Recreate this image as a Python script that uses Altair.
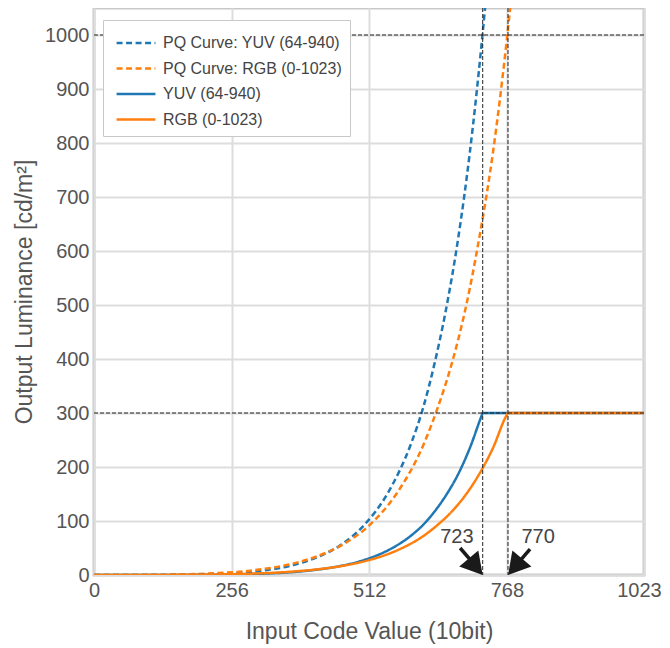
import altair as alt
import pandas as pd

FONT = "Liberation Sans"

series_names = ["PQ Curve: YUV (64-940)", "PQ Curve: RGB (0-1023)", "YUV (64-940)", "RGB (0-1023)"]
series_colors = ["#1f77b4", "#ff7f0e", "#1f77b4", "#ff7f0e"]
series_dashes = [[6, 3.5], [6, 3.5], [1, 0], [1, 0]]

# PQ curve, YUV (64-940)
pq_yuv_x = [0, 64, 152, 239, 327, 371, 414, 458, 502, 546, 590, 612, 633, 655, 677, 699, 721, 730]
pq_yuv_y = [0, 0, 0.3, 2.4, 10, 18.4, 32.5, 55, 92, 151, 244, 309, 390, 493, 621, 782, 984, 1078]

# PQ curve, RGB (0-1023)
pq_rgb_x = [0, 102, 205, 307, 358, 409, 460, 512, 563, 614, 639, 665, 691, 716, 742, 767, 777]
pq_rgb_y = [0, 0.3, 2.4, 10, 18.4, 32.5, 55, 92, 151, 244, 309, 390, 493, 621, 782, 984, 1078]

# output, YUV (64-940)
yuv_x = [0, 64, 152, 239, 327, 371, 414, 458, 502, 546, 590, 612, 633, 655, 677, 699, 721, 723, 1023]
yuv_y = [0, 0, 0.1, 0.7, 3, 5.5, 9.8, 16.6, 27.7, 45.3, 73.2, 92.7, 117, 148, 186, 235, 295, 300, 300]

# output, RGB (0-1023)
rgb_x = [0, 102, 205, 307, 358, 409, 460, 512, 563, 614, 639, 665, 691, 716, 742, 767, 770, 1023]
rgb_y = [0, 0.1, 0.7, 3, 5.5, 9.8, 16.6, 27.7, 45.3, 73.2, 92.7, 117, 148, 186, 235, 295, 300, 300]

x_ticks = [0, 256, 512, 768, 1023]
y_ticks = [0, 100, 200, 300, 400, 500, 600, 700, 800, 900, 1000]

h_ref = [1000, 300]
v_ref = [723, 770]

# annotations
ann_text = ["723", "770"]
ann_text_x = [675, 826]
ann_text_y = [70, 70]
arrow_tail_x = [681, 811]
arrow_tail_y = [50, 48]
arrow_end_x = [712, 781]
arrow_end_y = [14, 13]
arrow_tip_x = [723, 770]
arrow_tip_y = [0, 0]

rows = []
for name, xs, ys in [(series_names[0], pq_yuv_x, pq_yuv_y), (series_names[1], pq_rgb_x, pq_rgb_y),
                     (series_names[2], yuv_x, yuv_y), (series_names[3], rgb_x, rgb_y)]:
    for i, (xv, yv) in enumerate(zip(xs, ys)):
        rows.append({"series": name, "code": xv, "lum": yv, "idx": i})
df = pd.DataFrame(rows)

xscale = alt.Scale(domain=[0, 1023], nice=False, zero=False)
yscale = alt.Scale(domain=[0, 1050], nice=False)

x_enc = alt.X("code:Q", scale=xscale,
              axis=alt.Axis(values=x_ticks, format="d", labelFlush=False,
                            labelOffset={"condition": {"test": "datum.value == 1023", "value": -5}, "value": 0},
                            title="Input Code Value (10bit)"))
y_enc = alt.Y("lum:Q", scale=yscale,
              axis=alt.Axis(values=y_ticks, format="d", labelFlush=False,
                            title="Output Luminance [cd/m²]"))

legend_kw = dict(
    orient="none", legendX=9, legendY=12, fillColor="white", strokeColor="#c8c8c8",
    padding=8, rowPadding=2.5, symbolType="M-1.44,0L1.44,0", symbolSize=729,
    symbolStrokeWidth=2.5, symbolOffset=10, labelOffset=12, labelFontSize=16,
    labelColor="#444444", labelFont=FONT, labelLimit=400,
)

lines = alt.Chart(df).mark_line(strokeWidth=2.5, clip=True, interpolate="monotone").encode(
    x=x_enc,
    y=y_enc,
    color=alt.Color("series:N", scale=alt.Scale(domain=series_names, range=series_colors),
                    title=None, legend=alt.Legend(**legend_kw)),
    strokeDash=alt.StrokeDash("series:N", scale=alt.Scale(domain=series_names, range=series_dashes),
                              title=None, legend=alt.Legend(**legend_kw)),
    order="idx:Q",
)

href = alt.Chart(pd.DataFrame({"lum": h_ref})).mark_rule(
    color="#222222", strokeWidth=1, strokeDash=[4, 2]).encode(y=alt.Y("lum:Q", scale=yscale))
vref = alt.Chart(pd.DataFrame({"code": v_ref})).mark_rule(
    color="#222222", strokeWidth=1, strokeDash=[4, 2]).encode(x=alt.X("code:Q", scale=xscale))

ann_df = pd.DataFrame({
    "t": ann_text, "tx": ann_text_x, "ty": ann_text_y,
    "ax": arrow_tail_x, "ay": arrow_tail_y, "ex": arrow_end_x, "ey": arrow_end_y,
    "px": arrow_tip_x, "py": arrow_tip_y,
})

labels = alt.Chart(ann_df).mark_text(fontSize=20, font=FONT, color="#444444", baseline="middle").encode(
    x=alt.X("tx:Q", scale=xscale), y=alt.Y("ty:Q", scale=yscale), text="t:N")

shafts = alt.Chart(ann_df).mark_rule(color="#1a1a1a", strokeWidth=3.5).encode(
    x=alt.X("ax:Q", scale=xscale), y=alt.Y("ay:Q", scale=yscale),
    x2="ex:Q", y2="ey:Q")

head1 = alt.Chart(ann_df.iloc[[0]]).mark_point(
    shape="triangle-up", size=620, filled=True, color="#1a1a1a", opacity=1,
    angle=140, xOffset=-7.0, yOffset=-8.3).encode(
    x=alt.X("px:Q", scale=xscale), y=alt.Y("py:Q", scale=yscale))
head2 = alt.Chart(ann_df.iloc[[1]]).mark_point(
    shape="triangle-up", size=620, filled=True, color="#1a1a1a", opacity=1,
    angle=220, xOffset=7.0, yOffset=-8.3).encode(
    x=alt.X("px:Q", scale=xscale), y=alt.Y("py:Q", scale=yscale))

chart = alt.layer(lines, href, vref, shafts, head1, head2, labels).properties(
    width=550, height=567,
    autosize=alt.AutoSizeParams(type="none"),
    padding={"left": 86, "top": 0, "right": 18, "bottom": 73},
).configure_view(
    stroke="#c8c8c8", strokeWidth=3
).configure_axis(
    domain=False, ticks=False, gridColor="#dddddd", gridWidth=2,
    labelFont=FONT, labelFontSize=20, labelColor="#555555", labelPadding=5,
    titleFont=FONT, titleFontSize=23, titleColor="#555555", titleFontWeight="normal",
).configure_axisX(titlePadding=20).configure_axisY(titlePadding=8)

chart.save("out.html", embed_options={"renderer": "svg", "actions": False})
